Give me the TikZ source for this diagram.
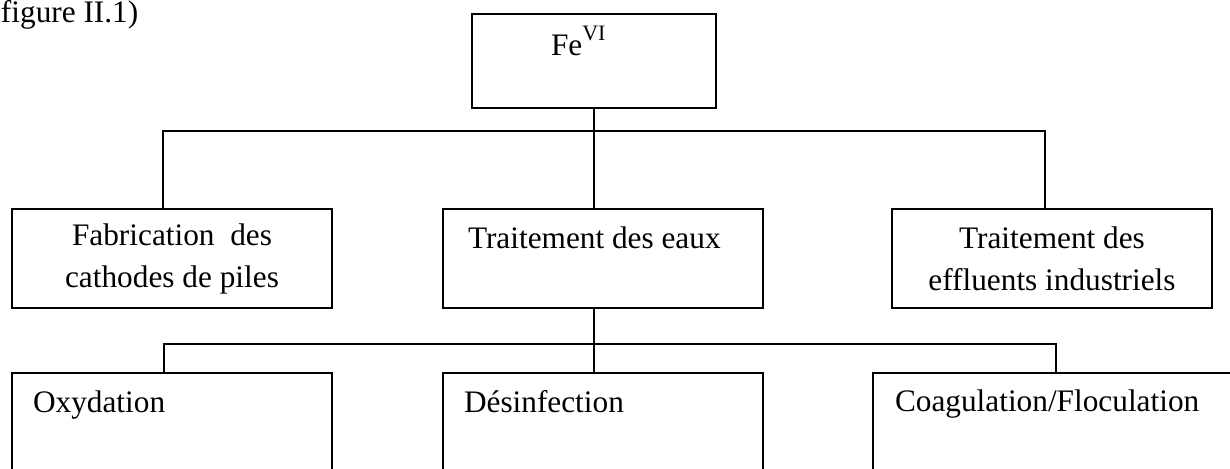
\documentclass[tikz,border=0pt]{standalone}
\usepackage{fontspec}
\setmainfont{Liberation Serif}
\usetikzlibrary{positioning}
\tikzset{
  basic/.style  = {draw, line width=1pt, rectangle, inner sep=0pt,
                   font=\fontsize{15.65}{21}\selectfont},
  level 1/.style = {basic, minimum width=122pt, minimum height=47pt},
  level 2/.style = {basic, align=center, minimum width=160pt, minimum height=49.5pt},
  level 3/.style = {basic, minimum width=160pt, minimum height=60pt},
  txt/.style    = {inner sep=0pt, anchor=base west, font=\fontsize{15.65}{21}\selectfont}
}

\begin{document}
\begin{tikzpicture}[x=0.5pt, y=-0.5pt, line width=1pt]
\clip (0,0) rectangle (1230,468);

\node[txt] (fig) at (0,22) {figure II.1)};

% racine
\node[level 1] (fe) at (594,61) {};
\node[txt] (fetxt) at (550,55) {Fe\raisebox{7.5pt}{\fontsize{11}{11}\selectfont VI}};

% premier niveau
\node[level 2] (fab) at (172,258.5) {Fabrication\ \ des\\cathodes de piles};
\node[level 2] (eaux) at (603,258.5) {};
\node[level 2] (eff) at (1052,258.5) {Traitement des\\effluents industriels};
\node[txt, below right=20pt and 12.5pt of eaux.north west, anchor=base west] (eauxtxt) {Traitement des eaux};

% second niveau
\begin{scope}[every node/.style={level 3}]
\node (oxy) at (172,433) {};
\node (des) at (603,433) {};
\node[minimum width=200pt] (coag) at (1073,433) {};
\end{scope}
\node[txt, below right=20pt and 10.5pt of oxy.north west, anchor=base west] (oxytxt) {Oxydation};
\node[txt, below right=20pt and 10.5pt of des.north west, anchor=base west] (destxt) {Désinfection};
\node[txt, below right=19.5pt and 11pt of coag.north west, anchor=base west] (coagtxt) {Coagulation/Floculation};

\coordinate (bus1) at (594,131);
\coordinate (bus2) at (594,344);

\draw (fe.south) -- (fe.south |- eaux.north);
\draw ([xshift=-4.5pt]fab.north) |- (bus1) -| ([xshift=-3.5pt]eff.north);

\draw ([xshift=-4.5pt]eaux.south) -- ([xshift=-4.5pt]des.north);
\draw ([xshift=-4pt]oxy.north) |- (bus2) -| ([xshift=-8.5pt]coag.north);

\end{tikzpicture}
\end{document}
